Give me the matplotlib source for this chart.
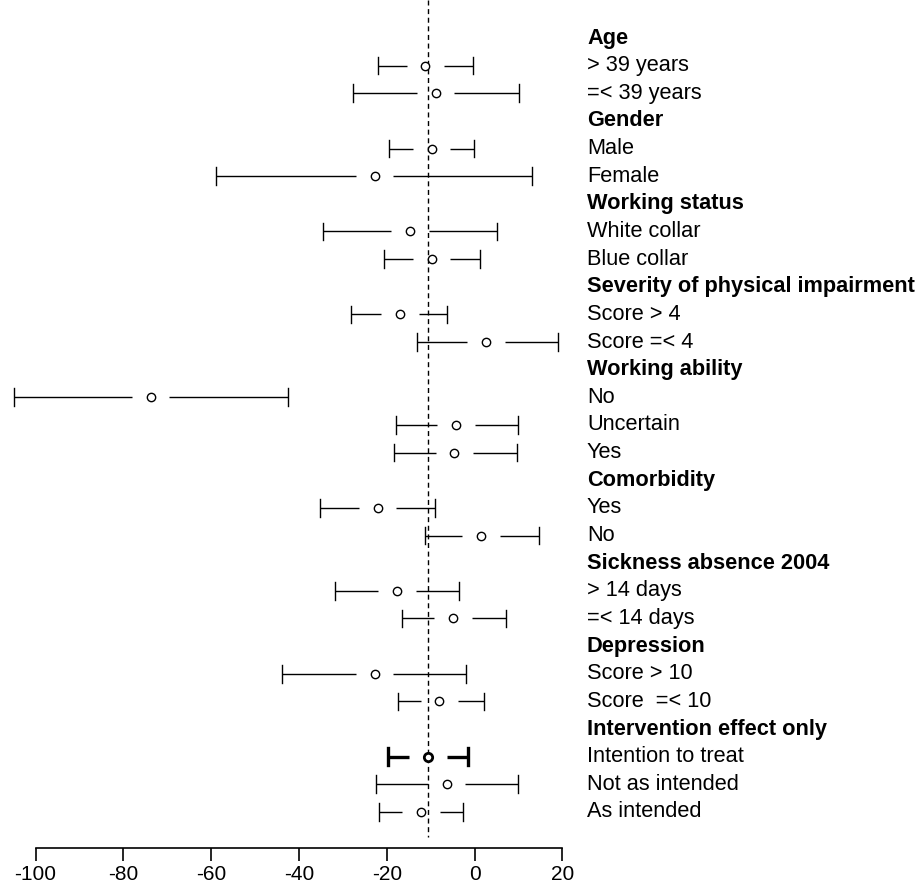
import numpy as np
import matplotlib
matplotlib.use("Agg")
import matplotlib.pyplot as plt

plt.rcParams['font.family'] = ['Liberation Sans', 'DejaVu Sans']
plt.rcParams['axes.unicode_minus'] = False

# rows top to bottom; headers have no estimate
labels = ["Age", "> 39 years", "=< 39 years",
          "Gender", "Male", "Female",
          "Working status", "White collar", "Blue collar",
          "Severity of physical impairment", "Score > 4", "Score =< 4",
          "Working ability", "No", "Uncertain", "Yes",
          "Comorbidity", "Yes", "No",
          "Sickness absence 2004", "> 14 days", "=< 14 days",
          "Depression", "Score > 10", "Score  =< 10",
          "Intervention effect only", "Intention to treat", "Not as intended", "As intended"]
is_header = [1, 0, 0, 1, 0, 0, 1, 0, 0, 1, 0, 0, 1, 0, 0, 0, 1, 0, 0, 1, 0, 0, 1, 0, 0, 1, 0, 0, 0]
nan = np.nan
est = [nan, -11.2, -8.9, nan, -9.8, -22.8, nan, -14.8, -9.8, nan, -17.0, 2.6,
       nan, -73.8, -4.2, -4.6, nan, -22.1, 1.5, nan, -17.7, -4.9, nan, -22.8, -8.0,
       nan, -10.6, -6.4, -12.2]
lo = [nan, -22.1, -27.6, nan, -19.5, -58.8, nan, -34.6, -20.6, nan, -28.2, -13.1,
      nan, -105.0, -17.9, -18.3, nan, -35.2, -11.2, nan, -31.7, -16.6, nan, -43.8, -17.5,
      nan, -19.8, -22.4, -21.7]
hi = [nan, -0.3, 10.2, nan, -0.1, 13.1, nan, 5.1, 1.2, nan, -6.2, 18.9,
      nan, -42.6, 9.9, 9.6, nan, -9.0, 14.7, nan, -3.5, 7.1, nan, -1.9, 2.1,
      nan, -1.4, 10.0, -2.6]
bold_row = "Intention to treat"
ref_line = -10.6
xticks = [-100, -80, -60, -40, -20, 0, 20]

W, H = 923, 882
fig = plt.figure(figsize=(W / 100, H / 100), dpi=100)
x_left, x_right = 35.6, 562.4     # pixel positions of -100 and 20
row0, pitch = 38.0, 27.64         # pixel y of first row, row spacing
axis_px = 848.0
ax = fig.add_axes([x_left / W, (H - axis_px) / H, (x_right - x_left) / W, axis_px / H])
ax.set_xlim(-100, 20)
ax.set_ylim((axis_px - row0) / pitch, (0 - row0) / pitch)

gap = 4.3
cap = 0.32
for i, lab in enumerate(labels):
    if not is_header[i]:
        b = lab == bold_row
        lw = 2.4 if b else 1.0
        ax.plot([lo[i], est[i] - gap], [i, i], color='black', lw=lw, clip_on=False,
                solid_capstyle='butt')
        ax.plot([est[i] + gap, hi[i]], [i, i], color='black', lw=lw, clip_on=False,
                solid_capstyle='butt')
        ax.plot([lo[i], lo[i]], [i - cap, i + cap], color='black', lw=lw, clip_on=False)
        ax.plot([hi[i], hi[i]], [i - cap, i + cap], color='black', lw=lw, clip_on=False)
        ax.plot(est[i], i, 'o', ms=6, mfc='white', mec='black',
                mew=2.0 if b else 1.0, clip_on=False, zorder=3)
    ax.text(25.6, i, lab, fontsize=15.7, va='center', ha='left',
            fontweight='bold' if is_header[i] else 'normal', clip_on=False)

ax.plot([ref_line, ref_line], [(0 - row0) / pitch, (837 - row0) / pitch],
        color='black', lw=1.0, dashes=(3.6, 2.6), clip_on=False, zorder=1)

for s in ['top', 'right', 'left']:
    ax.spines[s].set_visible(False)
ax.spines['bottom'].set_linewidth(1.2)
ax.set_yticks([])
ax.set_xticks(xticks)
ax.set_xticklabels([str(t) for t in xticks])
ax.tick_params(axis='x', length=9.4, width=1.2, pad=2.5, labelsize=15)
ax.patch.set_alpha(0)

fig.savefig("out.png", dpi=100)
